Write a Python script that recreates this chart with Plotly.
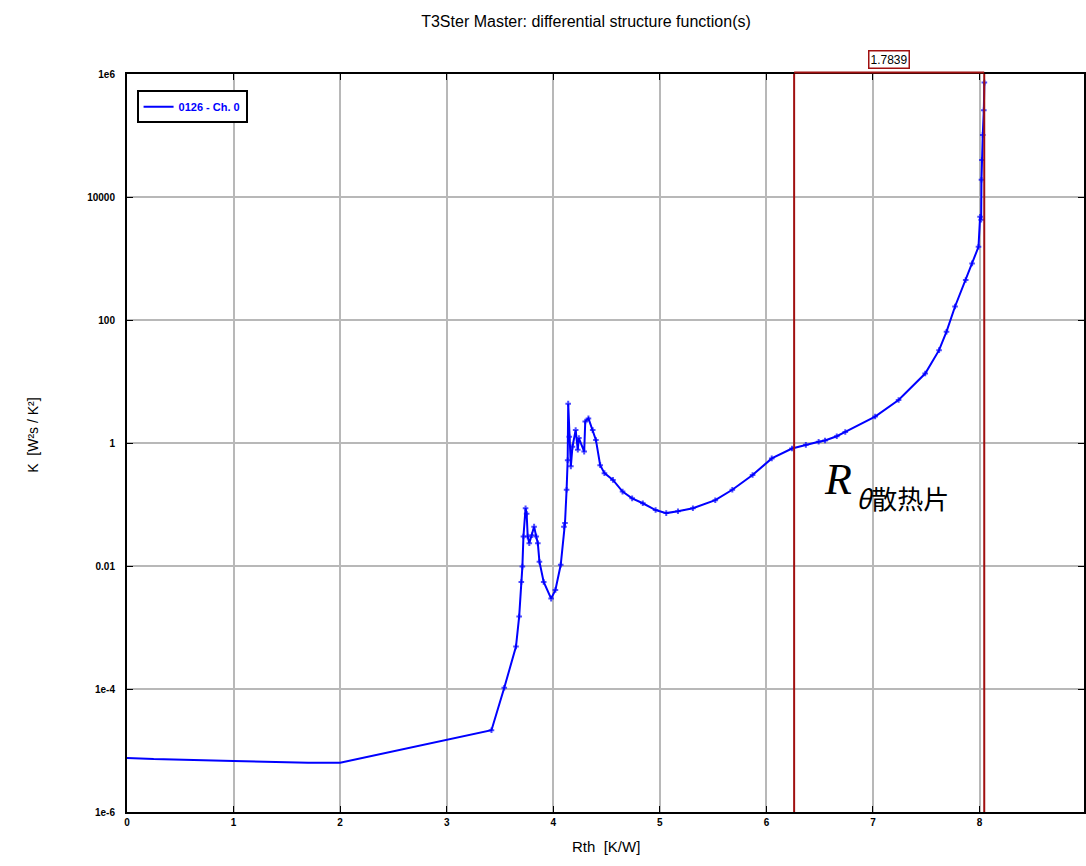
import plotly.graph_objects as go

# Differential structure function data (Rth [K/W], K value)
rth = [0.00, 0.25, 1.00, 1.70, 2.00, 3.42, 3.54, 3.65, 3.68, 3.70, 3.71, 3.72, 3.74,
       3.75, 3.76, 3.775, 3.80, 3.82, 3.84, 3.855, 3.87, 3.91, 3.98, 4.02, 4.07,
       4.10, 4.11, 4.125, 4.135, 4.14, 4.15, 4.165, 4.18, 4.21, 4.23, 4.24, 4.29,
       4.30, 4.33, 4.37, 4.40, 4.44, 4.48, 4.56, 4.65, 4.74, 4.84, 4.96, 5.06,
       5.17, 5.31, 5.52, 5.68, 5.87, 6.05, 6.24, 6.37, 6.49, 6.55, 6.66, 6.74,
       7.02, 7.24, 7.49, 7.62, 7.69, 7.77, 7.87, 7.93, 7.99, 8.005, 8.015, 8.018,
       8.022, 8.03, 8.04, 8.045]
logk = [-5.12, -5.14, -5.17, -5.20, -5.20, -4.67, -3.98, -3.31, -2.82, -2.26, -2.01, -1.52, -1.06,
        -1.15, -1.52, -1.63, -1.50, -1.36, -1.52, -1.63, -1.93, -2.26, -2.53, -2.39, -1.98,
        -1.36, -1.30, -0.76, -0.28, 0.64, 0.10, -0.38, -0.06, 0.21, -0.11, 0.08, -0.14,
        0.35, 0.40, 0.21, 0.05, -0.36, -0.49, -0.60, -0.79, -0.90, -0.98, -1.09, -1.14,
        -1.11, -1.06, -0.93, -0.76, -0.52, -0.25, -0.09, -0.03, 0.02, 0.04, 0.11, 0.18,
        0.43, 0.70, 1.13, 1.51, 1.81, 2.22, 2.65, 2.92, 3.19, 3.68, 3.63, 4.28,
        4.60, 5.01, 5.41, 5.86]
kval = [10 ** v for v in logk]

series_name = "0126 - Ch. 0"
cursor_left = 6.26
cursor_delta = 1.7839
cursor_right = cursor_left + cursor_delta

ytick_vals = [1e-6, 1e-4, 1e-2, 1, 100, 10000, 1e6]
ytick_text = ["1e-6", "1e-4", "0.01", "1", "100", "10000", "1e6"]
xtick_vals = [0, 1, 2, 3, 4, 5, 6, 7, 8, 9]

marker_sizes = [0 if x < 3.4 else 4 for x in rth]
blue = "#0000ff"
dark_red = "#a01010"
sans = "Liberation Sans, Arial"

fig = go.Figure()
fig.add_trace(go.Scatter(
    x=rth, y=kval, mode="lines+markers", name=series_name, showlegend=False,
    line=dict(color=blue, width=2),
    marker=dict(symbol="cross-thin", size=marker_sizes, color=blue,
                line=dict(color=blue, width=2)),
))
# legend entry (line only, as in the reference)
fig.add_trace(go.Scatter(x=[None], y=[None], mode="lines", name=series_name,
                         line=dict(color=blue, width=2), showlegend=True))

# cursor lines
for xv in (cursor_left, cursor_right):
    fig.add_shape(type="line", xref="x", yref="paper", x0=xv, x1=xv, y0=0, y1=1,
                  line=dict(color=dark_red, width=2))
fig.add_shape(type="line", xref="x", yref="paper", x0=cursor_left, x1=cursor_right,
              y0=1.002, y1=1.002, line=dict(color=dark_red, width=2))
mid = (cursor_left + cursor_right) / 2
fig.add_annotation(x=mid, y=1, xref="x", yref="paper", text=f"{cursor_delta:.4f}",
                   showarrow=False, yanchor="bottom", yshift=5,
                   font=dict(family=sans, size=12, color="black"),
                   bordercolor=dark_red, borderwidth=1.5, borderpad=1, bgcolor="white")

# R_theta heat sink label
fig.add_annotation(x=6.52, y=-0.60, xref="x", yref="y", xanchor="left",
                   text="<i>R</i>", showarrow=False,
                   font=dict(family="Liberation Serif, Times New Roman", size=44, color="black"))
fig.add_annotation(x=6.82, y=-0.88, xref="x", yref="y", xanchor="left",
                   text="<i>θ</i>散热片", showarrow=False,
                   font=dict(family="Noto Sans CJK SC", size=26, color="black"))

# axis titles
fig.add_annotation(x=-0.1095, y=0.51, xref="paper", yref="paper",
                   text="K  [W²s / K²]", textangle=-90, showarrow=False,
                   font=dict(family=sans, size=14, color="black"))
fig.add_annotation(x=0.5, y=-0.061, xref="paper", yref="paper",
                   text="Rth  [K/W]", showarrow=False,
                   font=dict(family=sans, size=15, color="black"))

fig.update_layout(
    width=1086, height=866,
    margin=dict(l=127, r=0, t=74, b=54),
    paper_bgcolor="white", plot_bgcolor="white",
    title=dict(text="T3Ster Master: differential structure function(s)",
               x=586 / 1086, xref="container", xanchor="center",
               y=1 - 21 / 866, yref="container", yanchor="middle",
               font=dict(family=sans, size=16, color="black")),
    showlegend=True,
    legend=dict(x=0.01, y=0.978, xanchor="left", yanchor="top",
                bordercolor="black", borderwidth=2, bgcolor="white",
                font=dict(family=sans, size=11, color=blue, weight="bold"),
                itemwidth=30, tracegroupgap=0),
    xaxis=dict(range=[0, 8.98], tickvals=xtick_vals, showgrid=True,
               gridcolor="#b8b8b8", gridwidth=1.5, showline=True, linecolor="black",
               linewidth=2, mirror="ticks", ticks="inside", ticklen=6, tickcolor="black",
               tickfont=dict(family=sans, size=10, color="black", weight="bold"),
               zeroline=False),
    yaxis=dict(type="log", range=[-6, 6], tickvals=ytick_vals, ticktext=ytick_text,
               showgrid=True, gridcolor="#b8b8b8", gridwidth=1.5, showline=True,
               linecolor="black", linewidth=2, mirror="ticks", ticks="inside", ticklen=6,
               tickcolor="black", ticklabelstandoff=8,
               tickfont=dict(family=sans, size=10, color="black", weight="bold"),
               zeroline=False),
)

fig.write_html("out.html")
